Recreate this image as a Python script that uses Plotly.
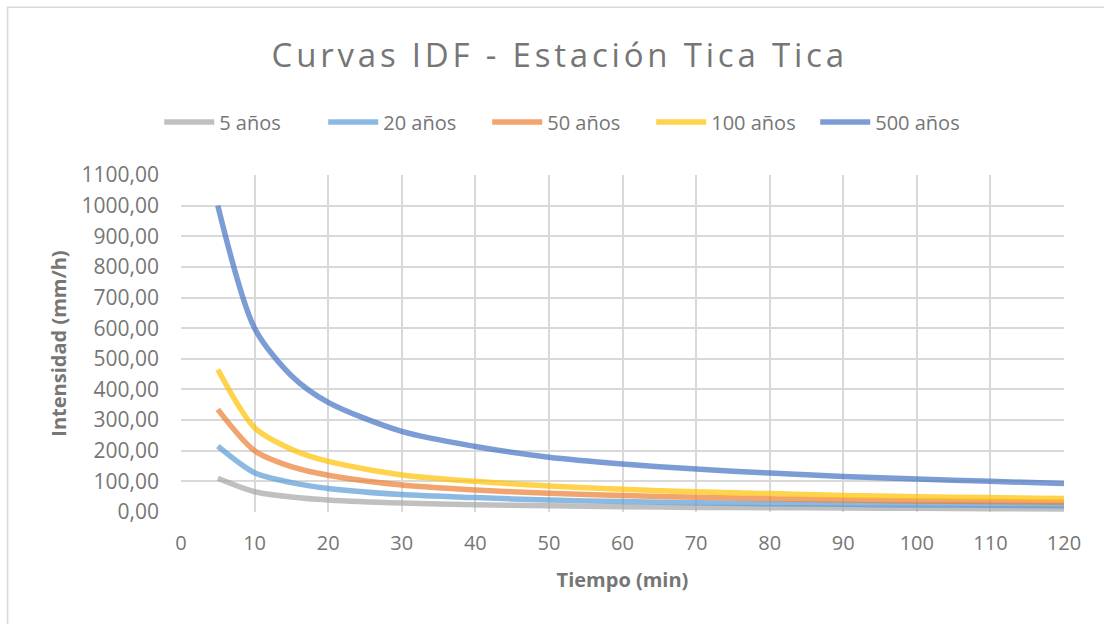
import plotly.graph_objects as go

# Duration (min) and rainfall intensity (mm/h) for each return period
tiempo = [5, 10, 15, 20, 30, 40, 50, 60, 70, 80, 90, 100, 110, 120]
i_5 = [110, 66, 49, 39, 29, 24, 20, 17, 15, 14, 13, 12, 11, 10]
i_20 = [215, 128, 96, 77, 57, 47, 39, 34, 30, 27, 25, 23, 22, 20]
i_50 = [335, 200, 148, 120, 88, 72, 61, 54, 48, 43, 39, 36, 34, 32]
i_100 = [465, 275, 205, 165, 121, 100, 85, 74, 66, 60, 54, 50, 47, 44]
i_500 = [1000, 600, 445, 358, 263, 214, 179, 157, 140, 127, 116, 108, 100, 93]

series_names = ["5 años", "20 años", "50 años", "100 años", "500 años"]
series_values = [i_5, i_20, i_50, i_100, i_500]
series_colors = [
    "rgba(165,165,165,0.7)",
    "rgba(91,155,213,0.7)",
    "rgba(237,125,49,0.7)",
    "rgba(255,192,0,0.7)",
    "rgba(68,114,196,0.7)",
]

TXT = "#767676"
GRID = "#D9D9D9"
FONT = "Open Sans"

fig = go.Figure()
for name, vals, col in zip(series_names, series_values, series_colors):
    fig.add_trace(go.Scatter(
        x=tiempo, y=vals, name=name, mode="lines",
        line=dict(color=col, width=5.5, shape="spline", smoothing=0.8),
    ))

# Chart area border
fig.add_shape(type="rect", xref="paper", yref="paper",
              x0=(7 - 180.5) / 883.5, x1=1.2, y0=-0.6, y1=(512.3 - 7) / 337.3,
              line=dict(color=GRID, width=1.5), layer="below")

fig.update_layout(
    width=1104, height=624,
    margin=dict(l=180.5, r=40, t=175, b=111.7, autoexpand=False),
    paper_bgcolor="white", plot_bgcolor="white",
    separators=",.",
    font=dict(family=FONT, color=TXT, size=20),
    title=dict(text="Curvas IDF - Estación Tica Tica", x=0.507, xanchor="center",
               yref="container", y=1 - 55 / 624, yanchor="middle",
               font=dict(family=FONT, size=33, color=TXT)),
    legend=dict(orientation="h", xref="container", yref="container",
                x=0.5156, xanchor="center", y=1 - 122 / 624, yanchor="middle",
                font=dict(family=FONT, size=20, color=TXT),
                itemwidth=50, entrywidth=99, traceorder="normal"),
    showlegend=True,
)

fig.update_xaxes(
    range=[0, 120], dtick=10, tick0=0, showgrid=True, gridcolor=GRID, gridwidth=2,
    zeroline=False, showline=False, ticks="", ticklabelstandoff=17,
    tickfont=dict(family=FONT, size=20, color=TXT),
    title=dict(text="<b>Tiempo (min)</b>", standoff=17,
               font=dict(family=FONT, size=20, color=TXT)),
    automargin=False,
)
fig.update_yaxes(
    range=[0, 1100], dtick=100, tick0=0, tickformat=".2f", showgrid=True,
    gridcolor=GRID, gridwidth=2, zeroline=False, showline=False, ticks="",
    ticklabelstandoff=21,
    tickfont=dict(family=FONT, size=21, color=TXT),
    title=dict(text="<b>Intensidad (mm/h)</b>", standoff=9,
               font=dict(family=FONT, size=20, color=TXT)),
    automargin=False,
)

# Wide tracking on the chart title
title_spacing = """
var gd = document.getElementById('{plot_id}');
gd.querySelectorAll('.gtitle').forEach(function (t) { t.style.letterSpacing = '3.8px'; });
"""

fig.write_html("out.html", post_script=title_spacing)
